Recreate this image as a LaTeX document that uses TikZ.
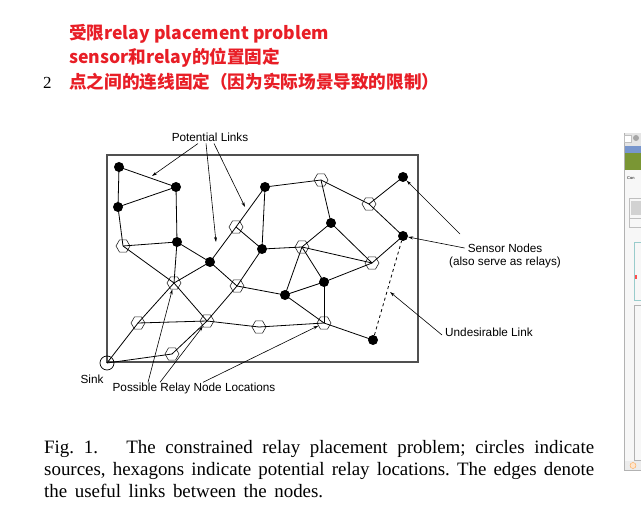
\documentclass[tikz,border=0pt]{standalone}
\usepackage{fontspec}
\setmainfont{Liberation Serif}
\setsansfont{Liberation Sans}
\newfontfamily\cjk{Noto Sans CJK SC}
\usepackage{tikz}
\usetikzlibrary{positioning,arrows.meta,shapes.geometric}
\frenchspacing
\definecolor{notered}{RGB}{232,30,38}
\definecolor{framegray}{RGB}{80,80,80}
\definecolor{wingreen}{RGB}{122,150,52}
\definecolor{winblue}{RGB}{120,150,205}
\tikzset{
  sensor/.style={circle, fill=black, inner sep=0pt, minimum size=10bp},
  relay/.style={regular polygon, regular polygon sides=6, draw=black!85, line width=0.6bp,
                inner sep=0pt, minimum size=14bp},
  sink/.style={circle, draw=black, line width=0.7bp, inner sep=0pt, minimum size=14bp},
  link/.style={line width=0.8bp},
  badlink/.style={link, dashed},
  callout/.style={-{Stealth[length=5bp,width=3bp]}, line width=0.6bp},
  lbl/.style={font=\sffamily\fontsize{11.8}{13}\selectfont, inner sep=0pt},
  note/.style={font=\cjk\bfseries\fontsize{17.7}{24}\selectfont, text=notered, anchor=base west, inner sep=0pt},
  captext/.style={font=\fontsize{19}{22}\selectfont, anchor=base west, inner sep=0pt}
}

\begin{document}
\begin{tikzpicture}[x=1bp, y=-1bp]
        \useasboundingbox (0,0) rectangle (641,505);
        % red notes and line number
        \node[note] (n1) at (69,40) {受限relay placement problem};
        \node[note] (n2) at (69,64) {sensor和relay的位置固定};
        \node[note] (n3) at (69,89) {点之间的连线固定（因为实际场景导致的限制）};
        \node[captext, font=\fontsize{17}{20}\selectfont] (ln) at (43,89) {2};
        % field
        \draw[framegray, line width=1.2bp] (107,155) rectangle (418,362);
        % sensors
        \node[sensor] (s1) at (119,167) {};
        \node[sensor] (s2) at (176,187) {};
        \node[sensor] (s3) at (118,207) {};
        \node[sensor] (s4) at (177,242) {};
        \node[sensor] (s5) at (210,262) {};
        \node[sensor] (s6) at (265,187) {};
        \node[sensor] (s7) at (262,249) {};
        \node[sensor] (s8) at (331,223) {};
        \node[sensor] (s9) at (403,177) {};
        \node[sensor] (s10) at (403,236) {};
        \node[sensor] (s11) at (324,282) {};
        \node[sensor] (s12) at (285,295) {};
        \node[sensor] (s13) at (373,340) {};
        % relay locations
        \node[relay] (h1) at (123,246) {};
        \node[relay] (h2) at (236,227) {};
        \node[relay] (h3) at (321,180) {};
        \node[relay] (h4) at (302,247) {};
        \node[relay] (h5) at (369,204) {};
        \node[relay] (h6) at (372,263) {};
        \node[relay] (h7) at (174,283) {};
        \node[relay] (h8) at (237,286) {};
        \node[relay] (h9) at (138,323) {};
        \node[relay] (h10) at (207,321) {};
        \node[relay] (h11) at (259,327) {};
        \node[relay] (h12) at (324,323) {};
        \node[relay] (h13) at (172,354) {};
        \node[sink] (sink) at (107,363) {};
        % links
        \foreach \a/\b in {s1/s3, s1/s2, s3/s2, s3/h1, s2/s4, h1/s4, h1/h7, s4/h7, s4/s5,
                           s5/h2, h2/s6, h2/s7, s6/s7, s6/h3, h3/s8, h3/h5, h5/s9, h5/s10,
                           s8/h4, s8/h6, s7/h4, h4/h6, h6/s10, s5/h8, h7/s5, sink/h9, h9/h7,
                           h7/h10, h9/h10, h10/h11, h11/h12, sink/h13, h13/h10, h10/h8,
                           h8/s12, s7/h8, h4/s11, h4/s12, s12/s11, s11/h6, s11/h12,
                           s12/h12, h12/s13}
          \draw[link] (\a.center) -- (\b.center);
        \draw[badlink] (s13) -- (s10);
        % labels
        \node[lbl] (pl) at (210,137) {Potential Links};
        \coordinate (t1) at (152,176);
        \coordinate (t2) at (216,242);
        \coordinate (t3) at (245,207);
        \draw[callout] ([xshift=-12bp,yshift=-2bp]pl.south) -- (t1);
        \draw[callout] ([xshift=-4bp,yshift=-2bp]pl.south) -- (t2);
        \draw[callout] ([xshift=4bp,yshift=-2bp]pl.south) -- (t3);
        \node[lbl] (sn) at (505,248) {Sensor Nodes};
        \node[lbl, below=4bp of sn] (sr) {(also serve as relays)};
        \draw[callout] (460,234) -- (s9);
        \draw[callout] ([xshift=-3bp]sn.west) -- (s10);
        \node[lbl] (ul) at (489,332) {Undesirable Link};
        \coordinate (t4) at (390,292);
        \draw[callout] ([xshift=-3bp,yshift=-3bp]ul.west) -- (t4);
        \node[lbl] (sk) at (92,379) {Sink};
        \node[lbl] (pr) at (194,388) {Possible Relay Node Locations};
        \draw[callout] ([xshift=-46bp]pr.north) -- (h7);
        \draw[callout] ([xshift=-34bp]pr.north) -- (h10);
        \draw[callout] ([xshift=9bp]pr.north) -- (h12);
        % caption
        \node[captext] (c1) at (44,453) {\makebox[550bp][s]{Fig.~1.\hspace{1.5em}The constrained relay placement problem; circles indicate}};
        \node[captext] (c2) at (44,475) {\makebox[550bp][s]{sources, hexagons indicate potential relay locations. The edges denote}};
        \node[captext] (c3) at (44,497) {\makebox[279bp][s]{the useful links between the nodes.}};
        % window at the right edge
        \draw[gray!60, fill=gray!6] (624,133) rectangle (641,470);
        \fill[gray!20] (624.5,133.5) rectangle (641,146);
        \draw[gray!50, fill=white] (624.5,135) rectangle (631,142);
        \fill[gray!70] (636,138) circle (3bp);
        \fill[winblue] (624.5,146) rectangle (641,153);
        \fill[wingreen] (624.5,153) rectangle (641,170);
        \node[font=\sffamily\fontsize{4}{5}\selectfont, anchor=west, inner sep=0pt] (co) at (627,178) {Con};
        \draw[gray!50] (629,198) rectangle (641,218);
        \fill[gray!35] (631,201) rectangle (641,215);
        \draw[gray!50] (629,218) rectangle (641,227);
        \draw[teal!40] (634,242) rectangle (641,300);
        \fill[red!70] (635,275) rectangle (637,279);
        \draw[gray!60] (634,305) rectangle (641,460);
        \fill[gray!15] (624.5,461) rectangle (641,469.5);
        \draw[orange!70, fill=orange!20] (633,465.5) circle (3bp);
      \end{tikzpicture}
\end{document}
